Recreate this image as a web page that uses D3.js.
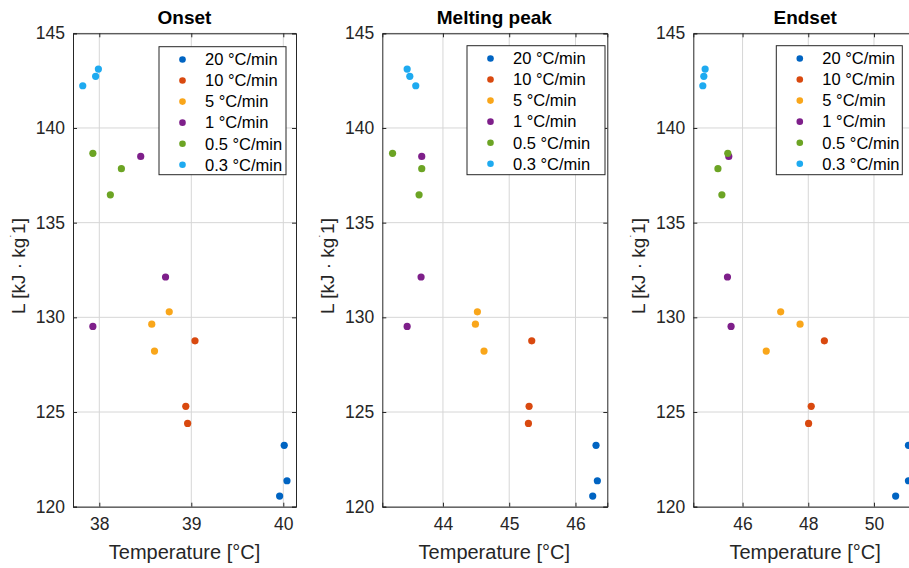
<!DOCTYPE html>
<html>
<head>
<meta charset="utf-8">
<script src="https://cdn.jsdelivr.net/npm/d3@7"></script>
<style>
  body { margin: 0; background: #fff; }
  svg { display: block; font-family: "Liberation Sans", Arial, sans-serif; }
</style>
</head>
<body>
<script>
// heating rates, same order in every panel
var rates = ["20 °C/min", "10 °C/min", "5 °C/min", "1 °C/min", "0.5 °C/min", "0.3 °C/min"];
var rateColors = ["#0064C2", "#D9490F", "#F9A61A", "#7E1F8A", "#6CA424", "#1EAAF0"];

// latent heat L [kJ/kg], three samples per rate
var latent = [
    [123.24, 121.37, 120.56],
    [128.76, 125.30, 124.40],
    [130.29, 129.64, 128.22],
    [138.50, 132.13, 129.52],
    [138.66, 137.85, 136.47],
    [143.11, 142.73, 142.23]
];

// temperatures [°C] for the same samples
var onsetT = [
    [40.01, 40.04, 39.96],
    [39.04, 38.94, 38.96],
    [38.76, 38.57, 38.60],
    [38.45, 38.72, 37.93],
    [37.93, 38.24, 38.12],
    [37.99, 37.96, 37.82]
];
var peakT = [
    [46.31, 46.33, 46.26],
    [45.34, 45.30, 45.29],
    [44.52, 44.49, 44.62],
    [43.68, 43.67, 43.46],
    [43.24, 43.68, 43.64],
    [43.46, 43.50, 43.59]
];
var endsetT = [
    [51.05, 51.05, 50.66],
    [48.49, 48.09, 48.01],
    [47.16, 47.75, 46.72],
    [45.58, 45.54, 45.65],
    [45.55, 45.25, 45.37],
    [44.86, 44.82, 44.79]
];

var titles = ["Onset", "Melting peak", "Endset"];
var xDomains = [[37.714, 40.138], [43.085, 46.48], [44.5, 51.31]];
var xTicks = [[38, 39, 40], [44, 45, 46], [46, 48, 50]];
var yDomain = [120, 145];
var yTicks = [120, 125, 130, 135, 140, 145];

var W = 909, H = 568;
var plotTop = 33.3, plotBottom = 506.7;
// axes placement (left, right) and legend boxes
var boxes = [[73, 296], [382.3, 607.3], [693.3, 917]];
var legends = [[159, 46.7, 127, 128], [467, 45.7, 138, 129], [776.3, 45.7, 126, 129]];
var temps = [onsetT, peakT, endsetT];

var svg = d3.select("body").append("svg")
    .attr("width", W)
    .attr("height", H);

var y = d3.scaleLinear().domain(yDomain).range([plotBottom, plotTop]);

for (var p = 0; p < 3; p++) {
    drawPanel(p);
}

function drawPanel(p) {
    var left = boxes[p][0], right = boxes[p][1];
    var x = d3.scaleLinear().domain(xDomains[p]).range([left, right]);
    var g = svg.append("g");

    g.append("rect")
        .attr("x", left).attr("y", plotTop)
        .attr("width", right - left).attr("height", plotBottom - plotTop)
        .attr("fill", "#fff");

    // grid
    g.selectAll(".gx").data(xTicks[p]).enter().append("line")
        .attr("x1", function(d) { return x(d); })
        .attr("x2", function(d) { return x(d); })
        .attr("y1", plotTop).attr("y2", plotBottom)
        .attr("stroke", "#d6d6d6").attr("stroke-width", 1);
    g.selectAll(".gy").data(yTicks).enter().append("line")
        .attr("x1", left).attr("x2", right)
        .attr("y1", function(d) { return y(d); })
        .attr("y2", function(d) { return y(d); })
        .attr("stroke", "#d6d6d6").attr("stroke-width", 1);

    // axes with inward ticks
    g.append("g").attr("transform", "translate(0," + plotBottom + ")")
        .call(d3.axisBottom(x).tickValues(xTicks[p]).tickSize(-4).tickPadding(11).tickFormat(d3.format("d")));
    g.append("g").attr("transform", "translate(" + left + ",0)")
        .call(d3.axisLeft(y).tickValues(yTicks).tickSize(-4).tickPadding(8));
    g.append("g").attr("transform", "translate(0," + plotTop + ")")
        .call(d3.axisTop(x).tickValues(xTicks[p]).tickSize(-4).tickFormat(""));
    g.append("g").attr("transform", "translate(" + right + ",0)")
        .call(d3.axisRight(y).tickValues(yTicks).tickSize(-4).tickFormat(""));

    g.selectAll(".domain").attr("stroke", "#262626");
    g.selectAll(".tick line").attr("stroke", "#262626");
    g.selectAll(".tick text").attr("fill", "#262626").style("font-size", "17.5px");

    // points
    rates.forEach(function(r, i) {
        g.selectAll(".pt" + i).data(temps[p][i]).enter().append("circle")
            .attr("cx", function(d) { return x(d); })
            .attr("cy", function(d, j) { return y(latent[i][j]); })
            .attr("r", 3.6)
            .attr("fill", rateColors[i]);
    });

    // title and labels
    svg.append("text")
        .attr("x", (left + Math.min(right, left + 224)) / 2).attr("y", 24)
        .attr("text-anchor", "middle")
        .style("font-size", "19px").style("font-weight", "bold")
        .attr("fill", "#000")
        .text(titles[p]);

    svg.append("text")
        .attr("x", (left + Math.min(right, left + 224)) / 2).attr("y", 559)
        .attr("text-anchor", "middle")
        .style("font-size", "20px")
        .attr("fill", "#262626")
        .text("Temperature [°C]");

    var yl = svg.append("text")
        .attr("transform", "translate(" + (left - 48) + "," + ((plotTop + plotBottom) / 2 - 4) + ") rotate(-90)")
        .attr("text-anchor", "middle")
        .style("font-size", "19px")
        .attr("fill", "#262626");
    yl.append("tspan").text("L [kJ · kg");
    yl.append("tspan").attr("dy", -7).style("font-size", "11px").text("˙");
    yl.append("tspan").attr("dy", 7).text("1]");

    // legend
    var lg = legends[p];
    var leg = svg.append("g").attr("transform", "translate(" + lg[0] + "," + lg[1] + ")");
    leg.append("rect")
        .attr("width", lg[2]).attr("height", lg[3])
        .attr("fill", "#fff").attr("stroke", "#262626").attr("stroke-width", 1);
    var rows = leg.selectAll(".row").data(rates).enter().append("g")
        .attr("transform", function(d, i) { return "translate(0," + (12.8 + i * 21.05) + ")"; });
    rows.append("circle").attr("cx", 23.5).attr("cy", 0).attr("r", 3.3)
        .attr("fill", function(d, i) { return rateColors[i]; });
    rows.append("text").attr("x", 46).attr("y", 5.8)
        .style("font-size", "16.5px").attr("fill", "#000")
        .text(function(d) { return d; });
}
</script>
</body>
</html>
